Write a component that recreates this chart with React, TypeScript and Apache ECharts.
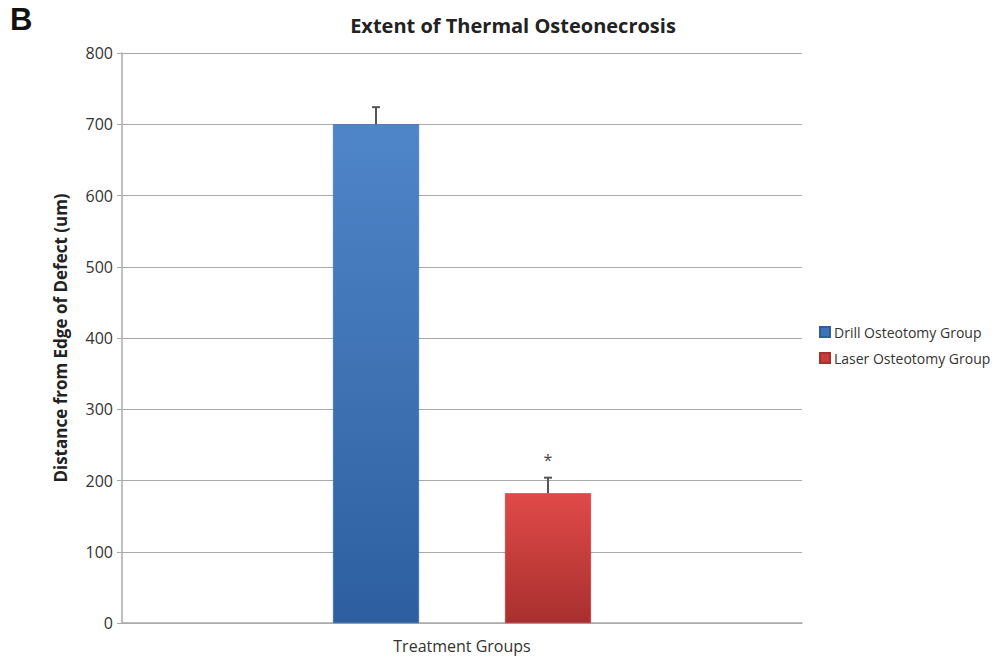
import React, { useEffect, useRef } from "react";
import * as echarts from "echarts";

const categories = ["Treatment Groups"];
const seriesNames = ["Drill Osteotomy Group", "Laser Osteotomy Group"];
const means = [700, 182];
const errorTops = [724, 204];
const significance = ["", "*"];
const yTicks = { min: 0, max: 800, interval: 100 };

const BAR_W = 86;
const colors = [
  { top: "#4f86c9", bottom: "#2d5f9f", legend: "#3f73b8" },
  { top: "#e04a48", bottom: "#a8302e", legend: "#c83c3a" },
];

export default function App() {
  const ref = useRef<HTMLDivElement>(null);
  useEffect(() => {
    if (!ref.current) return;
    const chart = echarts.init(ref.current, undefined, { renderer: "svg" });
    const font = "'Open Sans', 'Liberation Sans', sans-serif";
    const barSeries = seriesNames.map((name, i) => ({
      name,
      type: "bar",
      barWidth: BAR_W,
      barGap: "100%",
      data: [means[i]],
      itemStyle: {
        color: new echarts.graphic.LinearGradient(0, 0, 0, 1, [
          { offset: 0, color: colors[i].top },
          { offset: 1, color: colors[i].bottom },
        ]),
        borderColor: colors[i].bottom,
        borderWidth: 0.5,
      },
      z: 2,
    }));
    const errSeries = seriesNames.map((name, i) => ({
      name: name + " err",
      type: "custom",
      z: 5,
      silent: true,
      data: [[0, means[i], errorTops[i]]],
      renderItem: (params: any, api: any) => {
        const base = api.coord([api.value(0), api.value(1)]);
        const top = api.coord([api.value(0), api.value(2)]);
        const offset = (i === 0 ? -1 : 1) * BAR_W;
        const x = base[0] + offset;
        const children: any[] = [
          { type: "line", shape: { x1: x, y1: base[1], x2: x, y2: top[1] }, style: { stroke: "#555", lineWidth: 2 } },
          { type: "line", shape: { x1: x - 4, y1: top[1], x2: x + 4, y2: top[1] }, style: { stroke: "#555", lineWidth: 2 } },
        ];
        if (significance[i]) {
          children.push({
            type: "text",
            style: {
              text: significance[i],
              x: x,
              y: top[1] - 26,
              textAlign: "center",
              textVerticalAlign: "top",
              fontSize: 16,
              fill: "#444",
              fontFamily: font,
            },
          });
        }
        return { type: "group", children };
      },
    }));
    chart.setOption({
      animation: false,
      textStyle: { fontFamily: font },
      title: {
        text: "Extent of Thermal Osteonecrosis",
        left: 508,
        top: 10,
        textAlign: "center",
        textStyle: { fontSize: 20, fontWeight: "bold", color: "#222", fontFamily: font },
      },
      graphic: [
        {
          type: "text",
          left: 10,
          top: 4,
          style: { text: "B", fontSize: 31, fontWeight: "bold", fill: "#111", fontFamily: "'Liberation Sans', Arial, sans-serif" },
        },
      ],
      legend: {
        orient: "vertical",
        left: 814,
        top: 320,
        itemWidth: 10,
        itemHeight: 10,
        itemGap: 12,
        icon: "rect",
        data: seriesNames.map((n, i) => ({ name: n, itemStyle: { color: colors[i].legend } })),
        textStyle: { fontSize: 14, color: "#333", fontFamily: font, padding: [0, 0, 0, -1] },
      },
      grid: { left: 122, right: 204, top: 53, bottom: 37, containLabel: false },
      xAxis: {
        type: "category",
        data: categories,
        axisLine: { lineStyle: { color: "#aaa", width: 1.5 } },
        axisTick: { show: false },
        axisLabel: { fontSize: 16, color: "#333", margin: 15 },
      },
      yAxis: {
        type: "value",
        min: yTicks.min,
        max: yTicks.max,
        interval: yTicks.interval,
        name: "Distance from Edge of Defect (um)",
        nameLocation: "middle",
        nameGap: 53,
        nameTextStyle: { fontSize: 17, fontWeight: "bold", color: "#222", fontFamily: font },
        axisLine: { show: true, lineStyle: { color: "#aaa", width: 1.5 } },
        axisTick: { show: true, length: 5, lineStyle: { color: "#aaa" } },
        axisLabel: { fontSize: 16, color: "#333", margin: 9 },
        splitLine: { lineStyle: { color: "#aaa", width: 1 } },
      },
      series: [...barSeries, ...errSeries],
    });
    return () => chart.dispose();
  }, []);
  return <div ref={ref} style={{ width: 1006, height: 660, position: "absolute", left: 0, top: 0, background: "#fff" }} />;
}
